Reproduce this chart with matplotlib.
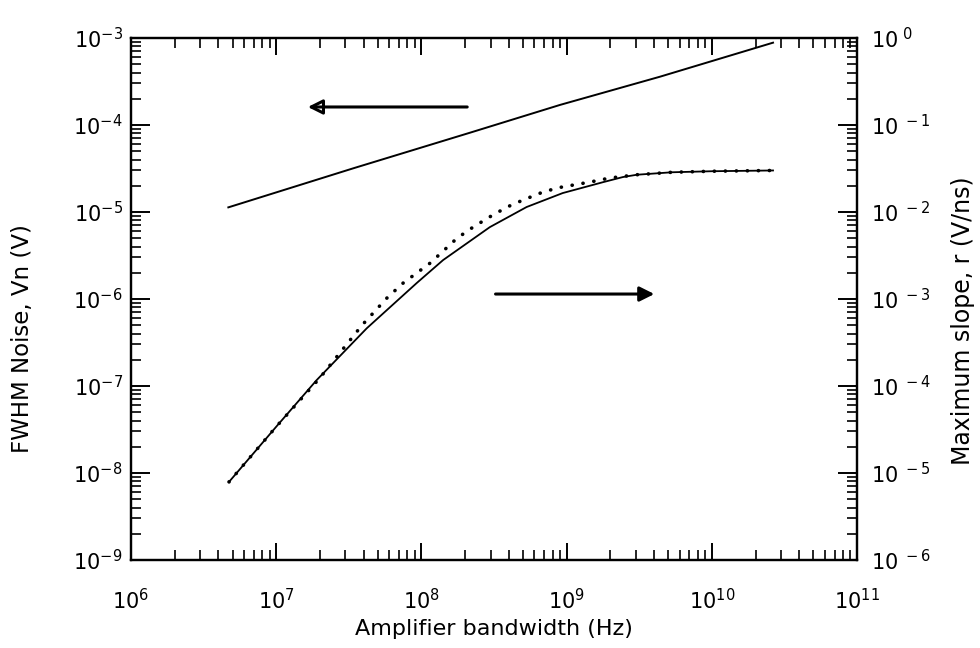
import matplotlib
matplotlib.use("Agg")
import matplotlib.pyplot as plt
from matplotlib.ticker import LogLocator, FixedLocator, FixedFormatter, NullFormatter

plt.rcParams['font.family'] = ['DejaVu Sans']

# Noise (left axis)
bw_noise = [4.68e6, 3.4e7, 2.16e8, 9.0e8, 4.4e9, 2.64e10]
vn_noise = [1.13e-5, 3.18e-5, 8.15e-5, 1.70e-4, 3.59e-4, 8.83e-4]

# Maximum slope, solid (right axis)
bw_slope = [4.73e6, 1.01e7, 1.9e7, 4.2e7, 9.3e7, 1.41e8, 2.96e8, 5.3e8, 9.4e8,
            1.78e9, 2.44e9, 3.05e9, 5.3e9, 1.0e10, 2.64e10]
r_slope = [7.9e-6, 3.47e-5, 1.17e-4, 4.6e-4, 1.53e-3, 2.8e-3, 6.7e-3, 1.14e-2,
           1.65e-2, 2.2e-2, 2.52e-2, 2.68e-2, 2.86e-2, 2.94e-2, 3.0e-2]

# Maximum slope, dotted (right axis)
bw_dot = [4.73e6, 1.01e7, 2.0e7, 3.9e7, 5.8e7, 7.5e7, 1.15e8, 1.76e8, 2.27e8,
          2.96e8, 3.89e8, 5.0e8, 6.6e8, 8.6e8, 1.11e9, 1.45e9, 1.99e9, 3.05e9,
          5.3e9, 1.0e10, 2.64e10]
r_dot = [7.9e-6, 3.47e-5, 1.24e-4, 5.0e-4, 1.03e-3, 1.53e-3, 2.59e-3, 5.0e-3,
         6.7e-3, 8.8e-3, 1.14e-2, 1.37e-2, 1.65e-2, 1.89e-2, 2.04e-2, 2.21e-2,
         2.46e-2, 2.68e-2, 2.86e-2, 2.94e-2, 3.0e-2]

x_exps = [6, 7, 8, 9, 10, 11]
left_exps = [-9, -8, -7, -6, -5, -4, -3]
right_exps = [-6, -5, -4, -3, -2, -1, 0]

fig = plt.figure(figsize=(9.8, 6.48), dpi=100)
ax = fig.add_axes([0.1337, 0.1358, 0.7408, 0.8056])
ax2 = ax.twinx()

ax.set_xscale('log')
ax.set_yscale('log')
ax2.set_yscale('log')
ax.set_xlim(1e6, 1e11)
ax.set_ylim(1e-9, 1e-3)
ax2.set_ylim(1e-6, 1e0)

ax.plot(bw_noise, vn_noise, color='black', lw=1.4)
ax2.plot(bw_slope, r_slope, color='black', lw=1.3)
ax2.plot(bw_dot, r_dot, color='black', lw=2.6, linestyle=(0, (0.05, 3.0)),
         dash_capstyle='round')

fs = 15
ax.xaxis.set_major_locator(FixedLocator([10.0**e for e in x_exps]))
ax.xaxis.set_major_formatter(FixedFormatter([r'$\mathregular{10^{%d}}$' % e for e in x_exps]))
ax.yaxis.set_major_locator(FixedLocator([10.0**e for e in left_exps]))
ax.yaxis.set_major_formatter(FixedFormatter([r'$\mathregular{10^{%d}}$' % e for e in left_exps]))
ax2.yaxis.set_major_locator(FixedLocator([10.0**e for e in right_exps]))
ax2.yaxis.set_major_formatter(FixedFormatter([r'$\mathregular{10^{\ %d}}$' % e for e in right_exps]))
for a in (ax.xaxis, ax.yaxis, ax2.yaxis):
    a.set_minor_locator(LogLocator(base=10, subs=range(2, 10), numticks=20))
    a.set_minor_formatter(NullFormatter())

ax.tick_params(axis='x', which='both', direction='in', top=True, bottom=True, labelsize=fs, pad=20)
ax.tick_params(axis='x', which='major', length=12, width=1.4)
ax.tick_params(axis='x', which='minor', length=7, width=1.2)
ax.tick_params(axis='y', which='both', direction='in', left=True, right=False, labelsize=fs, pad=6)
ax.tick_params(axis='y', which='major', length=14, width=1.4)
ax.tick_params(axis='y', which='minor', length=7, width=1.2)
ax2.tick_params(axis='y', which='both', direction='in', right=True, labelsize=fs, pad=10)
ax2.tick_params(axis='y', which='major', length=14, width=1.4)
ax2.tick_params(axis='y', which='minor', length=7, width=1.2)

for a in (ax, ax2):
    for s in a.spines.values():
        s.set_linewidth(1.6)

ax.set_xlabel('Amplifier bandwidth (Hz)', fontsize=16)
ax.xaxis.set_label_coords(0.5, -0.113)
ax.set_ylabel('FWHM Noise, Vn (V)', fontsize=16.5)
ax.yaxis.set_label_coords(-0.133, 0.425)
ax2.set_ylabel('Maximum slope, r (V/ns)', fontsize=17)
ax2.yaxis.set_label_coords(1.130, 0.458)

# arrows indicating axes
ax.annotate('', xy=(1.58e7, 1.61e-4), xytext=(2.16e8, 1.61e-4),
            arrowprops=dict(arrowstyle='-|>', color='black', lw=2.2,
                            mutation_scale=22, fill=False))
ax.annotate('', xy=(4.2e9, 1.14e-6), xytext=(3.1e8, 1.14e-6),
            arrowprops=dict(arrowstyle='-|>', color='black', lw=2.2,
                            mutation_scale=22))

fig.savefig('out.png', dpi=100)
